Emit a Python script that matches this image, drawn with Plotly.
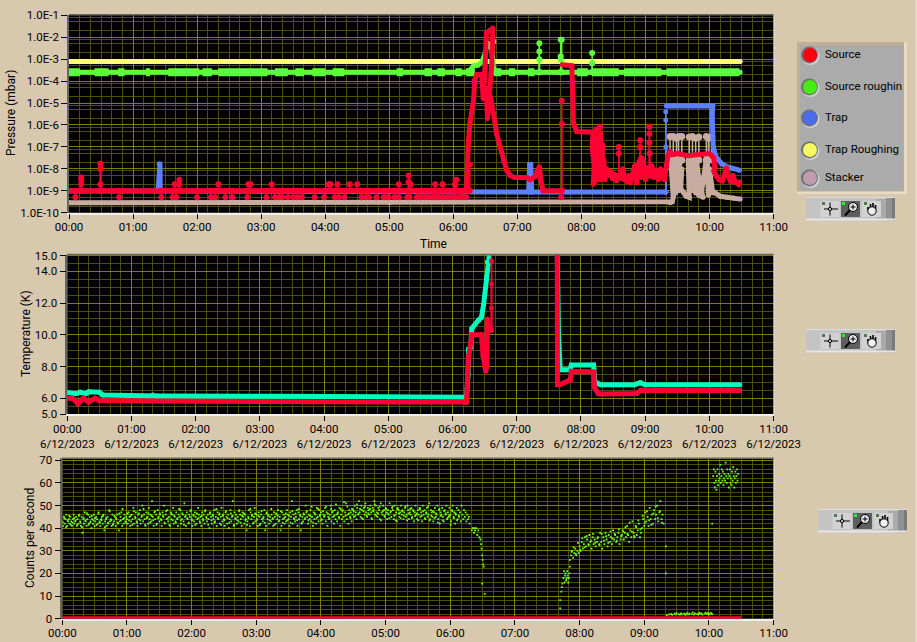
import plotly.graph_objects as go

W, H = 917, 642
BG = "#d8c8ae"
FONT = "Roboto"

# ---------- Pressure panel (time in minutes, pressure as log10 mbar) ----------
source_t = [0, 372, 372.5, 373.4, 374, 375.6, 377, 379, 380, 382, 386.5, 388, 389.7, 391, 394, 397, 396, 394, 392, 391, 393,
            397.5, 400.6, 403.8, 407, 410, 413, 418, 429, 432, 436.6, 440.6, 442, 444, 461.5, None,
            462, 471, 471.5, 472.5, 475.6, 491, 490, 492, 491, 493, 492, 494, 493, 495, 494, 496, 495, 497, 496, 498, 497, 499, 498, 500, 499, 501, 502, 503.5,
            505, 507, 509, 511, 513, 515, 517, 519, 520.5, 522, 524, 526, 528, 530, 532, 534, 536, 538, 540, 542, 544,
            546, 548, 550, 552, 554, 556, 558, 559, 561, 563, 565, 570, 580, 590, 600, 602, 604, 605, 604, 606, 609,
            612, 614, 616, 617, 620, 622, 624, 627, 628]
source_v = [-9, -9, -8.8, -7.3, -6.84, -5.9, -5.47, -4.85, -3.95, -3.7, -3.7, -4.8, -3.4, -1.8, -1.7, -1.58, -3.3, -4.8, -5.7, -4.6, -4.3,
            -5.47, -6.4, -7.0, -7.6, -8.06, -8.3, -8.4, -8.4, -8.5, -8.35, -7.9, -8.5, -9, -9, None,
            -3.25, -3.3, -4.1, -5.9, -6.3, -6.33, -7.0, -7.9, -8.7, -7.2, -8.4, -6.6, -8.6, -7.4, -8.2, -6.9, -8.5, -7.0, -8.3, -6.5, -8.4, -7.2, -8.5, -6.9, -8.3, -7.6, -8.5, -8.0,
            -8.3, -8.1, -8.45, -8.25, -8.55, -8.3, -8.45, -8.0, -8.5, -8.55, -8.3, -8.65, -8.25, -7.85, -8.65, -7.65, -8.4, -7.6, -8.5, -7.95, -8.35,
            -7.85, -8.4, -8.05, -8.5, -8.0, -8.4, -8.5, -8.05, -7.4, -7.2, -7.35, -7.3, -7.4, -7.35, -7.3, -7.4, -7.5, -7.9, -8.1, -8.3, -8.5,
            -8.55, -8.3, -7.95, -8.3, -8.6, -8.3, -8.6, -8.7, -8.6]
source_up_t = [11.5, 11.5, 11.5, 29.4, 29.4, 29.4, 99, 103.4, 103.4, 140, 168, 170, 190, 243, 245, 251.6, 263, 270, 309, 318, 318, 320, 343, 350, 362, 363, 361.5, 362,
               375.5, 461.6, 461.6]
source_up_v = [-8.7, -8.5, -8.4, -8.7, -8.0, -7.77, -8.7, -8.7, -8.5, -8.7, -8.7, -8.7, -8.7, -8.7, -8.7, -8.7, -8.7, -8.7, -8.7, -8.6, -8.3, -8.7, -8.7, -8.7, -8.7, -8.5, -8.7, -8.5,
               -7.8, -5.95, -4.9]
source_noise_t = [515, 515, 535, 535, 543.7, 543.7, 543.7, 497.5, 497.5, 494, 544, 536]
source_noise_v = [-7.0, -7.3, -6.7, -7.0, -6.08, -6.4, -6.8, -6.08, -6.4, -6.2, -7.3, -7.5]
source_dip_t = [6, 47, 86.5, 97, 100.6, 120, 133, 137, 146.5, 153, 167, 185, 193, 197, 200, 205, 210, 214, 218, 230, 239, 249, 252.5, 258,
                274, 278, 281, 288, 295, 299, 305, 309, 317, 319, 326, 329, 333, 336, 340, 343, 346, 350, 354, 358, 362, 366, 369, 372, 461]
source_dip_v = [-9.3] * 49

rough_t = [0, 100, 200, 300, 372, 376, 379, 383, 387, 390, 392, 396, 397, 398, 450, 550, 628.7]
rough_v = [-3.59, -3.59, -3.59, -3.59, -3.59, -3.48, -3.3, -3.27, -3.12, -2.7, -2.25, -2.5, -3.59, -3.59, -3.59, -3.59, -3.59]
rough_thick_start = [0, 24, 46, 72, 93, 125, 140, 193, 212, 228, 247, 307, 333, 345, 362, 372, 398, 412, 430, 476, 490, 520, 560]
rough_thick_end = [10, 37, 52, 76, 122, 134, 186, 205, 220, 240, 258, 313, 340, 352, 368, 380, 405, 418, 436, 486, 515, 555, 628]
rough_up_t = [440.6, 440.6, 440.6, 460.6, 460.6, 460.6, 461.5, 490, 490, 396, 397.5]
rough_up_v = [-3.0, -2.65, -2.27, -3.0, -2.87, -2.11, -2.11, -3.18, -2.72, -2.4, -2.2]

trap_t = [0, 83, 83.5, 84.4, 85.2, 85.5, 190, 372, 430.5, 431.5, 432.5, 433.5, 434, 559, None,
          559.5, 603, 602.5, 603.5, 606, 611, 616, 622, 628]
trap_v = [-9.01, -9.01, -8.9, -7.78, -7.78, -9.01, -9.04, -9.06, -9.06, -7.8, -7.8, -9.06, -9.06, -9.06, None,
          -5.13, -5.13, -5.6, -7.0, -7.45, -7.75, -7.9, -8.0, -8.06]
trap_up_t = [559, 559, 559]
trap_up_v = [-7.0, -5.77, -5.4]

trough_t = [0, 300, 628.7]
trough_v = [-3.1, -3.1, -3.1]

stacker_t = [0, 300, 563, 565, 566, 564, 563.5, 567, 566, 569, 568, 572, 570, 573, 571, 574, 573, 576, 578, 581,
             581, 580, 583, 582, 585, 584, 587, 586, 590, 594, 590, 588, 592,
             596, 597, 599, 598, 601, 600, 603, 604, 610, 616, 622.5, 628.7]
stacker_v = [-9.55, -9.55, -9.55, -9.5, -9.3, -8.0, -7.5, -7.6, -9.2, -7.6, -9.1, -7.6, -8.9, -7.7, -9.0, -8.0, -8.9, -9.1, -9.25, -9.3,
             -8.8, -7.6, -8.6, -7.6, -9.0, -7.8, -9.1, -8.0, -9.2, -9.3, -8.6, -7.7, -9.2,
             -7.9, -7.4, -9.2, -7.8, -9.0, -8.0, -9.1, -9.05, -9.25, -9.3, -9.33, -9.38]
stacker_up_t = [563, 566, 569, 571, 574, 581, 584, 587, 590, 597, 599, 602]
stacker_up_v = [-6.53, -6.53, -6.6, -6.53, -6.53, -6.55, -6.53, -6.6, -6.55, -6.53, -6.6, -6.53]

# ---------- Temperature panel ----------
cyan_t = [0, 8, 12, 17, 20, 30, 33, 80, 84, 200, 300, 373, 374.5, 375, 377, 378, 384, 387, 389, 391.5, 392.5, 394, 395, None,
          457.8, 458, 459, 460.6, 462, 470, 471, 491.8, 493, 498, 530, 535.4, 540, 628.5]
cyan_v = [6.36, 6.28, 6.38, 6.28, 6.4, 6.38, 6.2, 6.2, 6.14, 6.12, 6.08, 6.06, 7.5, 9.1, 9.2, 10.4, 10.9, 11.1, 11.9, 13.6, 14.6, 15.4, 15.4, None,
          15.4, 12, 10, 7.8, 7.8, 7.8, 8.1, 8.1, 7.05, 6.85, 6.85, 6.98, 6.85, 6.84]
temp_red_t = [0, 5, 10, 15, 20, 26, 30, 60, 80, 300, 372, 373, 375, 376, 378, 387, 388.5, 391, 392, 392.5, 394, 396, None,
              457.8, 458, 460, 470, 471, 492, 492.5, 496, 498, 532, 536, 628.5]
temp_red_v = [6.0, 6.0, 5.65, 6.0, 5.75, 6.0, 5.85, 5.85, 5.82, 5.75, 5.72, 5.75, 8.7, 9.0, 10.0, 10.0, 8.7, 7.7, 8.0, 11.0, 10.4, 10.3, None,
              15.4, 6.84, 6.84, 7.15, 7.7, 7.65, 6.7, 6.3, 6.27, 6.3, 6.5, 6.48]
temp_up_t = [396.4, 396.4, 396.4, 396.4, 396.4]
temp_up_v = [10.3, 11.7, 13.2, 14.66, 15.5]

# ---------- Counts panel ----------
counts_step = 0.75
counts_v = [
 43,41,45,42,44,46,41,43,44,42,45,43,41,44,46,42,43,45,41,44,
 42,46,43,41,45,38,44,42,47,43,41,44,46,42,45,43,40,44,42,46,
 41,43,45,44,42,47,43,41,44,45,42,46,39,43,44,41,45,42,48,43,
 44,41,46,42,43,45,41,44,46,42,39,43,45,47,41,44,42,46,43,45,
 44,42,47,45,41,43,46,44,49,42,45,47,43,41,46,44,48,42,45,50,
 43,46,44,41,47,45,42,49,44,46,43,52,45,41,47,44,46,42,48,45,
 43,46,44,41,47,45,50,42,46,44,48,43,45,41,47,44,46,49,42,45,
 43,47,44,41,46,45,48,42,44,46,43,51,45,41,47,44,42,46,45,48,
 44,41,46,43,47,45,42,44,49,46,43,45,41,47,44,46,42,48,45,43,
 46,44,40,47,45,42,46,44,48,43,45,41,47,44,46,42,45,49,43,46,
 44,41,47,45,42,46,40,44,48,43,45,52,41,47,44,46,42,45,43,48,
 46,44,41,47,45,42,46,44,39,43,45,48,41,47,44,46,42,45,49,43,
 46,44,41,47,45,42,46,44,43,45,48,39,41,47,44,46,42,45,43,46,
 44,41,47,45,42,46,44,48,43,45,39,41,47,44,46,42,45,43,48,46,
 44,41,47,45,52,42,46,44,43,45,48,41,47,44,46,39,42,45,43,46,
 44,50,47,45,42,46,44,48,43,45,41,47,44,46,42,49,45,43,48,46,
 47,44,42,46,45,49,43,47,41,45,44,46,50,43,47,45,42,48,44,46,
 43,47,45,49,41,46,44,48,45,43,47,51,44,46,42,48,45,47,43,46,
 48,45,50,47,44,49,46,52,47,45,50,48,44,49,46,51,47,45,49,48,
 46,50,47,44,49,48,52,46,50,47,45,49,48,44,51,47,46,50,48,45,
 49,47,44,48,46,51,47,45,49,48,44,50,46,47,43,49,48,45,47,50,
 46,48,44,47,49,45,46,50,48,44,47,46,49,45,48,43,47,50,46,44,
 48,46,49,45,47,43,50,46,48,44,47,49,45,46,51,44,48,47,45,43,
 47,49,45,46,50,44,48,42,47,46,49,45,43,48,46,50,44,47,45,49,
 46,43,48,50,45,47,42,46,49,44,48,45,47,43,50,46,44,48,45,47,
 43,46,44,45,42]
counts_b_start = 0.4
counts_b_step = 1.5
counts_b_v = [
 42.5,44.5,40.5,43.5,45.5,41.5,42.5,44.5,43.5,41.5,45.5,42.5,40.5,44.5,43.5,46.5,41.5,42.5,45.5,43.5,
 44.5,41.5,46.5,42.5,43.5,45.5,40.5,44.5,42.5,47.5,43.5,41.5,45.5,44.5,42.5,46.5,43.5,48.5,44.5,42.5,
 46.5,43.5,45.5,41.5,47.5,44.5,42.5,46.5,43.5,45.5,48.5,41.5,44.5,46.5,42.5,45.5,43.5,47.5,41.5,44.5,
 46.5,43.5,45.5,42.5,47.5,44.5,41.5,46.5,43.5,45.5,42.5,44.5,48.5,43.5,46.5,41.5,45.5,44.5,42.5,47.5,
 43.5,45.5,41.5,46.5,44.5,42.5,45.5,43.5,47.5,44.5,41.5,46.5,43.5,45.5,42.5,48.5,44.5,46.5,41.5,45.5,
 43.5,47.5,44.5,42.5,46.5,45.5,41.5,44.5,43.5,47.5,42.5,45.5,46.5,43.5,41.5,44.5,48.5,45.5,42.5,46.5,
 43.5,45.5,41.5,47.5,44.5,42.5,46.5,45.5,43.5,48.5,44.5,41.5,46.5,45.5,43.5,47.5,42.5,44.5,46.5,43.5,
 45.5,42.5,47.5,44.5,46.5,43.5,48.5,45.5,42.5,46.5,44.5,47.5,43.5,45.5,49.5,42.5,46.5,44.5,48.5,45.5,
 43.5,47.5,45.5,49.5,46.5,44.5,48.5,47.5,45.5,50.5,46.5,44.5,48.5,47.5,51.5,45.5,49.5,46.5,44.5,48.5,
 47.5,45.5,50.5,46.5,48.5,44.5,47.5,49.5,45.5,46.5,48.5,44.5,47.5,50.5,45.5,46.5,49.5,43.5,47.5,45.5,
 48.5,46.5,44.5,47.5,49.5,45.5,43.5,48.5,46.5,44.5,47.5,45.5,49.5,43.5,46.5,48.5,44.5,47.5,45.5,46.5,
 43.5,48.5,45.5,47.5,44.5,46.5,49.5,43.5,45.5,47.5,44.5,46.5,42.5,48.5,45.5,43.5,47.5,46.5,44.5,45.5,
 41.5,47.5,44.5,46.5,43.5,45.5]
counts_tail_t = [380, 381, 382, 382.5, 383, 384, 385, 386, 387, 388, 388.5, 389, 389.5, 390, 390.5, 391, 389.5, 392, 462, 462, 463, 463.5, 464,
    465, 465.5, 466, 466.5, 467, 467.5, 468, 468.5, 469, 469.5, 470, 470.5, 471, 471,
    472, 473, 474, 475, 476, 477, 478, 479, 480, 481, 482, 483, 484, 485, 486, 487, 488, 489, 490, 491, 492, 493, 494, 495, 496,
    497, 498, 499, 500, 501, 502, 503, 504, 505, 506, 507, 508, 509, 510, 511, 512, 513, 514, 515, 516, 517, 518,
    519, 520, 521, 522, 523, 524, 525, 526, 527, 528, 529, 530, 531, 532, 533, 534, 535, 536, 537,
    538, 539, 540, 541, 542, 543, 544, 545, 546, 547, 548, 549, 550, 551, 552, 553, 554, 555, 556, 557, 558, 560, 560]
counts_tail_v = [39, 40, 38, 40, 39, 40, 37, 39, 36, 35, 33, 31, 28, 26, 24, 23, 15.5, 11, 4.6, 8.2, 12, 14, 15.5,
    18, 21, 16, 19, 20, 17, 18, 21, 19, 16, 18, 20, 23, 26,
    28, 30, 27, 29, 31, 28, 30, 29, 32, 30, 34, 31, 33, 36, 32, 35, 33, 37, 34, 31, 36, 33, 35, 32, 34,
    36, 33, 38, 34, 31, 36, 33, 38, 35, 32, 37, 34, 36, 33, 39, 35, 37, 34, 36, 38, 33, 35,
    37, 39, 35, 38, 36, 41, 37, 34, 39, 36, 43, 38, 36, 41, 37, 39, 42, 36, 38,
    40, 44, 41, 47, 43, 45, 41, 49, 44, 46, 42, 48, 44, 46, 50, 43, 47, 52, 44, 46, 42, 32, 20]
counts_tail2_t = [472.5, 474.5, 476.5, 478.5, 480.5, 482.5, 484.5, 486.5, 488.5, 490.5, 492.5, 494.5, 496.5, 498.5, 500.5, 502.5, 504.5, 506.5, 508.5, 510.5, 512.5, 514.5, 516.5, 518.5,
                  520.5, 522.5, 524.5, 526.5, 528.5, 530.5, 532.5, 534.5, 536.5, 538.5, 540.5, 542.5, 544.5, 546.5, 548.5, 550.5, 552.5, 554.5, 556.5]
counts_tail2_v = [29.5, 31.5, 28.5, 33.5, 30.5, 35.5, 31.5, 36.5, 32.5, 34.5, 37.5, 33.5, 35.5, 32.5, 37.5, 34.5, 36.5, 33.5, 38.5, 35.5, 37.5, 34.5, 39.5, 36.5,
                  38.5, 40.5, 37.5, 42.5, 38.5, 36.5, 40.5, 43.5, 39.5, 45.5, 42.5, 47.5, 43.5, 41.5, 46.5, 49.5, 44.5, 47.5, 42.5]
counts_low_t = [561, 563, 565, 566, 568, 569, 570, 572, 573, 574, 575, 577, 578, 579, 580, 581, 582, 584, 585, 586, 587, 589, 590, 591, 592, 593, 594, 596, 597, 598, 599, 600, 601, 602, 603]
counts_low_v = [1.6, 1.9, 2.1, 1.7, 2.2, 1.9, 2.4, 2.0, 1.8, 2.3, 1.9, 2.2, 1.7, 2.1, 2.5, 1.9, 2.2, 2.0, 2.8, 1.8, 2.3, 2.0, 1.9, 2.6, 2.1, 2.3, 1.8, 2.2, 2.7, 2.0, 2.4, 1.9, 2.2, 2.5, 2.0]
counts_high_t = [603, 604, 604.5, 605, 605.5, 606, 606.5, 607, 607.5, 608, 608.5, 609, 609.5, 610, 610.5, 611, 611.5, 612, 612.5, 613, 613.5, 614, 614.5, 615,
                 615.5, 616, 616.5, 617, 617.5, 618, 618.5, 619, 619.5, 620, 620.5, 621, 621.5, 622, 622.5, 623, 623.5, 624, 624.5, 625, 625.5, 626, 626.5, 627]
counts_high_v = [42, 63, 66, 60, 58, 65, 61, 57, 63, 66, 59, 61, 64, 62, 68, 60, 63, 66, 61, 65, 59, 62, 64, 61, 69, 63, 60, 66, 62, 64, 58, 63, 66, 60, 62, 59, 65, 61, 67, 63, 58, 62, 65, 60, 63, 66, 61, 64]
counts_base_t = [0, 630]
counts_base_v = [0.4, 0.4]

# ---------- Axis text ----------
hour_vals = [0, 60, 120, 180, 240, 300, 360, 420, 480, 540, 600, 660]
hour_text = ["00:00", "01:00", "02:00", "03:00", "04:00", "05:00", "06:00", "07:00", "08:00", "09:00", "10:00", "11:00"]
date_text = "6/12/2023"
press_exps = [-10, -9, -8, -7, -6, -5, -4, -3, -2, -1]
press_text = ["1.0E-10", "1.0E-9", "1.0E-8", "1.0E-7", "1.0E-6", "1.0E-5", "1.0E-4", "1.0E-3", "1.0E-2", "1.0E-1"]
temp_vals = [5, 6, 8, 10, 12, 14, 15]
temp_text = ["5.0", "6.0", "8.0", "10.0", "12.0", "14.0", "15.0"]
count_vals = [0, 10, 20, 30, 40, 50, 60, 70]
legend_names = ["Source", "Source roughin", "Trap", "Trap Roughing", "Stacker"]

# ---------- Colours ----------
C_RED, C_GREEN, C_BLUE, C_YEL, C_STACK = "#ff0033", "#5cff3c", "#5c80ff", "#ffff70", "#c8aca0"
C_CYAN, C_DOT = "#00ffbe", "#6cff10"
MAJ, MIN = "#7f7f00", "#4e4e00"


def P(v):
    return None if v is None else 10 ** v


def stems(ts, vs, base):
    xs, ys = [], []
    for t, v in zip(ts, vs):
        xs += [t, t, None]
        ys += [base, v, None]
    return xs, ys


fig = go.Figure()


def thick(x, y, c, w, ax, name):
    fig.add_trace(go.Scatter(x=x, y=y, mode="lines+markers", line=dict(color=c, width=w), marker=dict(color=c, size=w),
                             xaxis="x" + ax, yaxis="y" + ax, name=name, showlegend=False, connectgaps=False))


def spiky(x, y, c, ax, name, ms=6):
    fig.add_trace(go.Scatter(x=x, y=y, mode="lines+markers", line=dict(color=c, width=1.5), marker=dict(color=c, size=ms),
                             xaxis="x" + ax, yaxis="y" + ax, name=name, showlegend=False))


# Pressure, bottom to top
thick(stacker_t, [P(v) for v in stacker_v], C_STACK, 5, "", "Stacker")
sx, sy = stems(stacker_up_t, stacker_up_v, -7.6)
spiky(sx, [P(v) for v in sy], C_STACK, "", "Stacker", 7)
thick(trough_t, [P(v) for v in trough_v], C_YEL, 5, "", "Trap Roughing")
thick(trap_t, [P(v) for v in trap_v], C_BLUE, 5, "", "Trap")
sx, sy = stems(trap_up_t, trap_up_v, -9.06)
spiky(sx, [P(v) for v in sy], C_BLUE, "", "Trap", 5)
thick(rough_t, [P(v) for v in rough_v], C_GREEN, 5, "", "Source roughing")
gx, gy = [], []
for a, b in zip(rough_thick_start, rough_thick_end):
    gx += [a, b, None]
    gy += [-3.6, -3.6, None]
fig.add_trace(go.Scatter(x=gx, y=[P(v) for v in gy], mode="lines", line=dict(color=C_GREEN, width=8), showlegend=False, name="Source roughing"))
sx, sy = stems(rough_up_t, rough_up_v, -3.59)
spiky(sx, [P(v) for v in sy], C_GREEN, "", "Source roughing")
thick(source_t, [P(v) for v in source_v], C_RED, 5, "", "Source")
sx, sy = stems(source_up_t, source_up_v, -9)
spiky(sx, [P(v) for v in sy], C_RED, "", "Source")
sx, sy = stems(source_noise_t, source_noise_v, -8.3)
spiky(sx, [P(v) for v in sy], C_RED, "", "Source")
sx, sy = stems(source_dip_t, source_dip_v, -9)
spiky(sx, [P(v) for v in sy], C_RED, "", "Source")

# Temperature
thick(cyan_t, cyan_v, C_CYAN, 5, "2", "Temperature A")
thick(temp_red_t, temp_red_v, C_RED, 5, "2", "Temperature B")
sx, sy = stems(temp_up_t, temp_up_v, 10.3)
spiky(sx, sy, C_RED, "2", "Temperature B", 5)

# Counts
counts_t = [i * counts_step for i in range(len(counts_v))]
counts_b_t = [counts_b_start + i * counts_b_step for i in range(len(counts_b_v))]
for xs, ys in ((counts_t, counts_v), (counts_b_t, counts_b_v), (counts_tail_t, counts_tail_v), (counts_tail2_t, counts_tail2_v),
               (counts_low_t, counts_low_v), (counts_high_t, counts_high_v)):
    fig.add_trace(go.Scatter(x=xs, y=ys, mode="markers", marker=dict(color=C_DOT, size=1.8, symbol="square", line=dict(width=0)),
                             xaxis="x3", yaxis="y3", showlegend=False, name="Counts"))
fig.add_trace(go.Scatter(x=counts_base_t, y=counts_base_v, mode="lines", line=dict(color=C_RED, width=3),
                         xaxis="x3", yaxis="y3", showlegend=False, name="Counts baseline"))


def dx(px):
    return px / W


def dy(px):
    return 1 - px / H


TICKFONT = dict(family=FONT, size=11.5, color="#000")


def xax(left, anchor, text):
    return dict(domain=[dx(left), dx(773.6)], range=[0, 660], anchor=anchor, tickmode="array", tickvals=hour_vals, ticktext=text, automargin=False,
                ticks="outside", ticklen=5, tickcolor="#000", showgrid=True, gridcolor=MAJ, gridwidth=1, zeroline=False, ticklabelstandoff=-2,
                showline=True, linecolor="#f0f0f0", linewidth=1.5, tickfont=TICKFONT,
                minor=dict(tickmode="array", tickvals=list(range(0, 661, 10)), showgrid=True, gridcolor=MIN, gridwidth=1, ticks=""))


def yax(top, bottom, rng, anchor, vals, text, minor, log=False):
    return dict(domain=[dy(bottom), dy(top)], range=rng, anchor=anchor, type="log" if log else "linear", tickmode="array", tickvals=vals, automargin=False,
                ticktext=text, ticks="outside", ticklen=6, tickcolor="#000", showgrid=True, gridcolor=MAJ, gridwidth=1, zeroline=False,
                showline=True, linecolor="#666666", linewidth=1.5, tickfont=TICKFONT,
                minor=dict(tickmode="array", tickvals=minor, showgrid=True, gridcolor=MIN, gridwidth=1, ticks=""))


log_minor = [m * 10.0 ** e for e in range(-10, -1) for m in (2, 5, 8)]
layout = dict(
    width=W, height=H, margin=dict(l=0, r=0, t=0, b=0, pad=0, autoexpand=False), paper_bgcolor=BG, plot_bgcolor="#000000", showlegend=False,
    font=dict(family=FONT, size=12, color="#000"),
    xaxis=xax(69, "y", hour_text),
    yaxis=yax(14.7, 212.7, [-10, -0.97], "x", [10.0 ** e for e in press_exps], press_text, log_minor, log=True),
    xaxis2=xax(67.3, "y2", [h + "<br>" + date_text for h in hour_text]),
    yaxis2=yax(254.5, 414, [5, 15.07], "x2", temp_vals, temp_text, [5 + 0.5 * i for i in range(21)]),
    xaxis3=xax(62.3, "y3", hour_text),
    yaxis3=yax(458.3, 618.7, [0, 70.9], "x3", count_vals, [str(v) for v in count_vals], list(range(0, 71, 2))),
)

shapes, ann = [], []


def rect(x0, y0, x1, y1, fill, line=None):
    shapes.append(dict(type="rect", xref="paper", yref="paper", x0=dx(x0), x1=dx(x1), y0=dy(y1), y1=dy(y0),
                       fillcolor=fill, line=dict(width=0 if line is None else 1, color=line or fill), layer="above"))


def circ(cx, cy, r, fill, line=None):
    shapes.append(dict(type="circle", xref="paper", yref="paper", x0=dx(cx - r), x1=dx(cx + r), y0=dy(cy + r), y1=dy(cy - r),
                       fillcolor=fill, line=dict(width=0 if line is None else 1, color=line or fill), layer="above"))


def seg(x0, y0, x1, y1, c="#000", w=1):
    shapes.append(dict(type="line", xref="paper", yref="paper", x0=dx(x0), x1=dx(x1), y0=dy(y0), y1=dy(y1),
                       line=dict(color=c, width=w), layer="above"))


def label(x, y, text, angle=0, anchor="center", size=12):
    ann.append(dict(xref="paper", yref="paper", x=dx(x), y=dy(y), text=text, showarrow=False, textangle=angle, xanchor=anchor, yanchor="middle",
                    font=dict(family=FONT, size=size, color="#000")))


label(11, 113, "Pressure (mbar)", -90)
label(433, 244, "Time")
label(26, 334, "Temperature (K)", -90)
label(30, 538, "Counts per second", -90)

# Frame tops and right edges
seg(69, 14.7, 774, 14.7, "#666666", 1.5)
seg(67, 254.5, 774, 254.5, "#666666", 1.5)
seg(62, 458.3, 774, 458.3, "#666666", 1.5)
seg(774, 14.7, 774, 212.7, "#e0e0e0", 1)
seg(774, 254.5, 774, 414, "#e0e0e0", 1)
seg(774, 458.3, 774, 618.7, "#e0e0e0", 1)

# Legend panel
rect(797, 42, 907, 194, "#e8dcc6")
rect(797, 42, 904, 191.5, "#c2ae90")
rect(800, 45, 903.5, 191, "#ababab")
led_y = [55, 87, 118, 150, 178]
led_c = ["#ff0010", "#44ee10", "#4a6cf0", "#f8f860", "#c09cb0"]
for name, y, c in zip(legend_names, led_y, led_c):
    circ(810.5, y + 1, 9, "#d4d4d4")
    circ(809.5, y, 8.5, "#707070")
    circ(810, y, 7, c)
    label(823, y - 1, name, anchor="left", size=11.5)


# Graph palettes
def palette(x, y):
    rect(x, y, x + 89, y + 23.5, "#c4c4c4")
    rect(x + 70, y + 2, x + 80, y + 23.5, "#aaaaaa")
    rect(x + 80, y + 1, x + 86, y + 23.5, "#919191")
    rect(x + 86, y, x + 89, y + 23.5, "#7a7a7a")
    rect(x, y, x + 89, y + 1, "#dedede")
    rect(x, y + 21.5, x + 89, y + 23.5, "#e6e6e6")
    for bx, f in ((14.5, "#d2d2d2"), (35, "#5e5e5e"), (56, "#d2d2d2")):
        rect(x + bx, y + 4, x + bx + 19, y + 20, f)
    # cursor tool
    seg(x + 18, y + 12, x + 32, y + 12)
    seg(x + 24, y + 5.5, x + 24, y + 18.5)
    circ(x + 24, y + 12, 1.6, "#d2d2d2", "#000")
    rect(x + 16, y + 5, x + 19, y + 8, "#4f7a4f")
    # zoom tool
    circ(x + 47, y + 10, 4.5, "#e6e6f2", "#000")
    seg(x + 44.5, y + 10, x + 49.5, y + 10)
    seg(x + 47, y + 7.5, x + 47, y + 12.5)
    seg(x + 44, y + 13, x + 39, y + 18.5, "#000", 2)
    rect(x + 36, y + 5, x + 39, y + 8, "#35e835")
    # pan tool
    for fx, top in ((62, 10), (64.5, 7), (67, 6), (69.5, 8)):
        seg(x + fx, y + 13, x + fx, y + top, "#000", 1.6)
    circ(x + 66, y + 14, 4.2, "#f2f2f2", "#000")
    rect(x + 58, y + 5, x + 61, y + 8, "#4f7a4f")


palette(806, 197)
palette(806, 329)
palette(818, 509)

rect(915, 0, 917, 642, "#e4d8c4")

layout["shapes"] = shapes
layout["annotations"] = ann
fig.update_layout(**layout)
fig.write_html("out.html", config=dict(displayModeBar=False),
               post_script="document.body.style.margin='0';document.body.style.background='#d8c8ae';document.documentElement.style.overflow='hidden';")
